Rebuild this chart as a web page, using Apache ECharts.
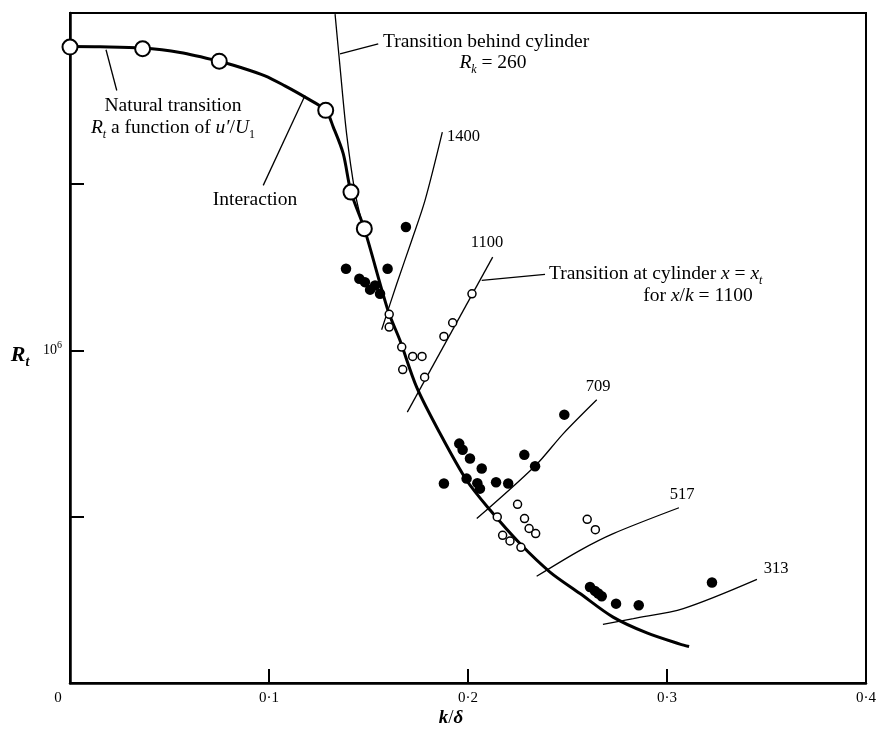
<!DOCTYPE html>
<html>
<head>
<meta charset="utf-8">
<script src="https://cdn.jsdelivr.net/npm/echarts@6/dist/echarts.min.js"></script>
<style>
  html, body { margin: 0; padding: 0; background: #fff; }
  #chart { width: 879px; height: 738px; }
</style>
</head>
<body>
<div id="chart"></div>
<script>
// x = k/delta, y = R_t (log scale)
var xTickLabels = ['0', '0·1', '0·2', '0·3', '0·4'];
var yTickValues = [5e5, 1e6, 2e6];
var yLabelValues = [1e6];

// natural transition measurements (large open circles)
var naturalPoints = [[0.0, 3.54e6], [0.0365, 3.515e6], [0.075, 3.338e6], [0.1285, 2.719e6], [0.1412, 1.934e6], [0.1479, 1.661e6]];

// main thick curve
var mainCurve = [[0, 3.548e6], [0.0151, 3.544e6], [0.0362, 3.526e6], [0.0553, 3.461e6], [0.0754, 3.334e6], [0.0854, 3.255e6],
  [0.0980, 3.14e6], [0.1080, 3.011e6], [0.1181, 2.873e6], [0.1285, 2.719e6], [0.1323, 2.536e6], [0.1373, 2.27e6],
  [0.1412, 1.934e6], [0.1479, 1.661e6],
  [0.1598, 1.181e6], [0.1658, 1.043e6], [0.1742, 0.858e6], [0.1859, 0.708e6], [0.1993, 0.582e6], [0.2111, 0.514e6],
  [0.2261, 0.447e6], [0.2412, 0.397e6], [0.2563, 0.363e6], [0.2729, 0.329e6], [0.2899, 0.308e6], [0.3065, 0.294e6], [0.3111, 0.291e6]];

// filled dots
var filledDots = [[0.1688, 1.672e6], [0.1387, 1.405e6], [0.1596, 1.405e6], [0.1454, 1.348e6], [0.1482, 1.329e6], [0.1508, 1.288e6],
  [0.1533, 1.311e6], [0.1558, 1.266e6], [0.1956, 0.678e6], [0.1973, 0.661e6], [0.201, 0.637e6], [0.2069, 0.611e6],
  [0.2283, 0.647e6], [0.2337, 0.617e6], [0.2484, 0.765e6], [0.1879, 0.574e6], [0.1993, 0.586e6], [0.2047, 0.575e6],
  [0.206, 0.562e6], [0.2141, 0.577e6], [0.2202, 0.574e6], [0.2613, 0.373e6], [0.2638, 0.367e6], [0.2655, 0.363e6],
  [0.2672, 0.359e6], [0.2744, 0.348e6], [0.2858, 0.3456e6], [0.3226, 0.38e6]];

// small open circles
var openDots = [[0.1604, 1.162e6], [0.1604, 1.102e6], [0.1667, 1.014e6], [0.1722, 0.975e6], [0.1769, 0.975e6], [0.1672, 0.923e6],
  [0.1782, 0.894e6], [0.1879, 1.06e6], [0.1923, 1.122e6], [0.202, 1.266e6], [0.2249, 0.5265e6], [0.2147, 0.4994e6],
  [0.2284, 0.496e6], [0.2307, 0.476e6], [0.234, 0.466e6], [0.2174, 0.4626e6], [0.2211, 0.4518e6], [0.2266, 0.44e6],
  [0.2599, 0.4945e6], [0.264, 0.4737e6]];

// thin transition lines
var rk260Line = [[0.1332, 4.06e6], [0.1357, 3.256e6], [0.139, 2.466e6], [0.1432, 1.934e6], [0.1467, 1.704e6]];
var line1400 = [[0.1566, 1.09e6], [0.1642, 1.32e6], [0.1717, 1.581e6], [0.1784, 1.868e6], [0.1871, 2.483e6]];
var line1100 = [[0.1695, 0.773e6], [0.2124, 1.475e6]];
var line709 = [[0.2044, 0.496e6], [0.2337, 0.6176e6], [0.2479, 0.707e6], [0.2647, 0.814e6]];
var line517 = [[0.2345, 0.39e6], [0.2563, 0.4346e6], [0.273, 0.466e6], [0.306, 0.519e6]];
var line313 = [[0.2678, 0.3192e6], [0.2831, 0.327e6], [0.3082, 0.3409e6], [0.3452, 0.385e6]];

// leader lines for the notes
var leaderNatural = [[0.0181, 3.5e6], [0.0235, 2.954e6]];
var leaderInteraction = [[0.0971, 1.989e6], [0.1181, 2.893e6]];
var leaderBehind = [[0.1357, 3.442e6], [0.1549, 3.589e6]];
var leaderAtCylinder = [[0.2069, 1.339e6], [0.2387, 1.373e6]];

var serif = 'Liberation Serif';
var ink = '#000';
var noteSize = 19.5;
var chart = echarts.init(document.getElementById('chart'));

function thin(data, smooth) {
  return {
    type: 'line', data: data, showSymbol: false, symbol: 'none', smooth: smooth || false,
    lineStyle: { color: ink, width: 1.3 }, silent: true, z: 3
  };
}

function note(text, x, y, align, size, bold) {
  size = size || noteSize;
  var sub = Math.round(size * 0.62);
  var lh = Math.round(size * 1.3);
  var w = bold ? 'bold' : 'normal';
  return {
    type: 'text', x: x, y: y, silent: true, z: 10,
    style: {
      text: text, fontFamily: serif, fontSize: size, lineHeight: lh, fill: ink,
      align: align || 'center', verticalAlign: 'middle',
      rich: {
        i: { fontFamily: serif, fontStyle: 'italic', fontWeight: w, fontSize: size, lineHeight: lh, fill: ink },
        s: { fontFamily: serif, fontStyle: 'italic', fontWeight: w, fontSize: sub, lineHeight: sub, verticalAlign: 'bottom', fill: ink },
        n: { fontFamily: serif, fontSize: sub, lineHeight: sub, verticalAlign: 'bottom', fill: ink }
      }
    }
  };
}

var option = {
  animation: false,
  backgroundColor: '#fff',
  grid: { left: 70, right: 13, top: 13, bottom: 55, show: true, borderColor: ink, borderWidth: 2 },
  xAxis: {
    type: 'value', min: 0, max: 0.4, interval: 0.1,
    axisLine: { lineStyle: { color: ink, width: 2.5 } },
    axisTick: { inside: true, length: 14, lineStyle: { color: ink, width: 2 } },
    splitLine: { show: false },
    axisLabel: {
      color: ink, fontFamily: serif, fontSize: 15, margin: 8,
      formatter: function (v) {
        var i = Math.round(v * 10);
        return i === 0 ? '{z|0}' : xTickLabels[i];
      },
      rich: { z: { fontFamily: serif, fontSize: 15, color: ink, padding: [0, 24, 0, 0] } }
    }
  },
  yAxis: {
    type: 'log', logBase: 10, min: 250000, max: 4080000,
    axisLine: { lineStyle: { color: ink, width: 2.5 } },
    axisTick: { inside: true, length: 14, customValues: yTickValues, lineStyle: { color: ink, width: 2 } },
    splitLine: { show: false },
    minorTick: { show: false },
    axisLabel: {
      customValues: yLabelValues, margin: 8,
      formatter: function () { return '{a|10}{b|6}'; },
      rich: {
        a: { fontFamily: serif, fontSize: 14, color: ink, lineHeight: 20 },
        b: { fontFamily: serif, fontSize: 10, color: ink, lineHeight: 10, verticalAlign: 'top' }
      }
    }
  },
  graphic: [
    note('{i|R}{s|t}', 20, 355, 'center', 22, true),
    note('{i|k}/{i|δ}', 451, 718, 'center', 19, true),
    note('Transition behind cylinder', 383, 42, 'left'),
    note('{i|R}{s|k} = 260', 493, 63, 'center'),
    note('1400', 447, 137, 'left', 16.5),
    note('Natural transition', 173, 106, 'center'),
    note('{i|R}{s|t} a function of {i|u′}/{i|U}{n|1}', 173, 128, 'center'),
    note('Interaction', 255, 200, 'center'),
    note('1100', 487, 243, 'center', 16.5),
    note('Transition at cylinder {i|x} = {i|x}{s|t}', 549, 274, 'left'),
    note('for {i|x}/{i|k} = 1100', 698, 296, 'center'),
    note('709', 598, 387, 'center', 16.5),
    note('517', 682, 495, 'center', 16.5),
    note('313', 776, 569, 'center', 16.5)
  ],
  series: [
    {
      type: 'line', data: mainCurve, showSymbol: false, symbol: 'none', smooth: 0.3,
      lineStyle: { color: ink, width: 3 }, silent: true, z: 4, clip: false
    },
    thin(rk260Line, 0.3),
    thin(line1400, 0.3),
    thin(line1100),
    thin(line709, 0.3),
    thin(line517, 0.3),
    thin(line313, 0.3),
    thin(leaderNatural),
    thin(leaderInteraction),
    thin(leaderBehind),
    thin(leaderAtCylinder),
    {
      type: 'scatter', data: naturalPoints, symbol: 'circle', symbolSize: 15, clip: false, z: 6,
      itemStyle: { color: '#fff', borderColor: ink, borderWidth: 2, opacity: 1 }
    },
    {
      type: 'scatter', data: openDots, symbol: 'circle', symbolSize: 8, clip: false, z: 6,
      itemStyle: { color: '#fff', borderColor: ink, borderWidth: 1.5, opacity: 1 }
    },
    {
      type: 'scatter', data: filledDots, symbol: 'circle', symbolSize: 10.5, clip: false, z: 6,
      itemStyle: { color: ink, opacity: 1 }
    }
  ]
};

chart.setOption(option);
</script>
</body>
</html>
